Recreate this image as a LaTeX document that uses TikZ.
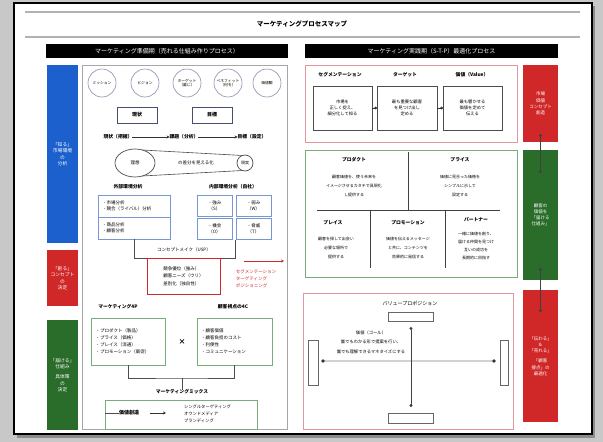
\documentclass[tikz,border=0pt]{standalone}
\usepackage{fontspec}
\setmainfont{Noto Sans CJK JP}
\usetikzlibrary{arrows.meta,shapes.geometric}
\definecolor{bgG}{RGB}{200,200,200}
\definecolor{cBlue}{RGB}{28,96,206}
\definecolor{cRed}{RGB}{208,40,40}
\definecolor{cGreen}{RGB}{42,108,42}
\definecolor{bPink}{RGB}{226,150,160}
\definecolor{bGreen}{RGB}{120,172,120}
\definecolor{bBlue}{RGB}{120,150,210}
\definecolor{bCirc}{RGB}{135,145,175}
\definecolor{bDark}{RGB}{70,80,110}
\newcommand{\fsz}[2]{\fontsize{#1}{#2}\selectfont}
\begin{document}
\begin{tikzpicture}[x=1pt,y=-1pt,
  every node/.style={inner sep=0pt,outer sep=0pt,font=\fsz{4.5}{5.6}},
  hdr/.style={fill=black,text=white,font=\fsz{6}{7}},
  side/.style={text=white,align=center,font=\fsz{4.8}{6.4}},
  circ/.style={circle,draw=bCirc,line width=0.6,minimum size=28,align=center,font=\fsz{3.8}{4.6}},
  dbox/.style={draw=bDark,line width=0.7,fill=white,align=center,font=\fsz{5}{6}\bfseries},
  lbl/.style={font=\fsz{4.8}{6}\bfseries},
  bbox/.style={draw=bBlue,line width=0.9,fill=white,align=left,text width=64,inner xsep=4pt},
  sbox/.style={draw=bBlue,line width=0.9,fill=white,align=center,minimum width=35,minimum height=21},
  gbox/.style={draw=bGreen,line width=0.9,fill=white,align=left,text width=66,inner xsep=4pt,minimum height=47,font=\fsz{4.5}{7}},
  pbox/.style={draw=bPink,line width=0.9},
  wbox/.style={draw=black!70,line width=0.6,fill=white,align=center,minimum width=59,minimum height=44,font=\fsz{4.3}{6}},
  conn/.style={draw=black!70,line width=0.6},
  arr/.style={draw=black!80,line width=0.9,-{Stealth[length=3pt,width=3pt]}},
  dotarr/.style={draw=black!80,line width=0.8,-{Circle[length=2.6pt]}},
  dotline/.style={draw=black!75,line width=1,{Circle[length=3pt]}-{Circle[length=3pt]}},
  tiny/.style={align=center,font=\fsz{4}{5.2}}
]
\useasboundingbox (0,0) rectangle (603,442);
\fill[bgG] (0,0) rectangle (603,442);
\fill[black!45] (17,6) rectangle (595,438);
\draw[line width=2pt,fill=white] (14,3) rectangle (592,434);
\draw[gray!60,line width=1.6pt] (25,12) -- (580,12);
\draw[gray!60,line width=1.6pt] (25,37) -- (580,37);
\node[font=\fsz{6.5}{8}\bfseries] (title) at (302,24) {マーケティングプロセスマップ};

% headers
\node[hdr,minimum width=242,minimum height=14] (lh) at (167,51) {マーケティング準備期（売れる仕組み作りプロセス）};
\node[hdr,minimum width=253,minimum height=14] (rh) at (431.5,51) {マーケティング実践期（S-T-P）最適化プロセス};

% left sidebars
\node[side,fill=cBlue,minimum width=31,minimum height=178] (sb1) at (62.5,154) {「知る」\\市場環境\\の\\分析};
\node[side,fill=cRed,minimum width=31,minimum height=56] (sb2) at (62.5,278) {「創る」\\コンセプト\\の\\決定};
\node[side,fill=cGreen,minimum width=31,minimum height=110] (sb3) at (62.5,375) {「届ける」\\仕組み\\[4pt]具体策\\の\\決定};

% left main box
\node[draw=gray!70,line width=0.9,minimum width=205,minimum height=364] (mainL) at (184.5,247) {};

% circles
\node[circ] (c1) at (102,83) {ミッション};
\node[circ] (c2) at (145,83) {ビジョン};
\node[circ] (c3) at (187,83) {ターゲット\\（誰に）};
\node[circ] (c4) at (228,83) {ベネフィット\\（何を）};
\node[circ] (c5) at (267,83) {価値観};

% current / goal
\node[dbox,minimum width=40,minimum height=16] (now) at (137,115) {現状};
\node[dbox,minimum width=40,minimum height=16] (goal) at (212,115) {目標};

% arrow row
\node[lbl] (r1) at (118,137) {現状（把握）};
\node[lbl] (r2) at (184,137) {課題（分析）};
\node[lbl] (r3) at (252,137) {目標（設定）};
\draw[arr] (r1) -- (r2);
\draw[arr] (r2) -- (r3);

% gap funnel
\node[ellipse,draw=black!70,line width=0.7,minimum width=40,minimum height=28,font=\fsz{4.5}{5.5}] (ideal) at (135,163) {理想};
\node[circle,draw=black!70,line width=0.7,minimum size=16,font=\fsz{4}{5}] (real) at (245,163) {現実};
\draw[conn] (ideal.60) -- (real.110);
\draw[conn] (ideal.-60) -- (real.-110);
\node[font=\fsz{4.5}{5.5}] (gaptxt) at (196,163) {の差分を見える化};

% analysis
\node[lbl] (extL) at (128,187) {外部環境分析};
\node[lbl] (intL) at (233,187) {内部環境分析（自社）};
\node[bbox,minimum height=22] (ext1) at (134,206) {・市場分析\\・競合（ライバル）分析};
\node[bbox,minimum height=22] (ext2) at (134,228) {・商品分析\\・顧客分析};
\node[sbox] (s1) at (214.5,206) {・強み\\（S）};
\node[sbox] (s2) at (253.5,206) {・弱み\\（W）};
\node[sbox] (s3) at (214.5,229) {・機会\\（O）};
\node[sbox] (s4) at (253.5,229) {・脅威\\（T）};
\coordinate (jr) at (235,258);
\coordinate (swb) at (235,240);
\draw[conn] (ext2.south) |- (jr) -- (swb);
\node[lbl,font=\fsz{4.5}{5.5}] (uspL) at (184,250) {コンセプトメイク（USP）};
\node[draw=cRed,line width=0.9,fill=white,align=left,minimum width=73,minimum height=36,font=\fsz{4.5}{7.5}] (cpt) at (183.5,276) {競争優位（強み）\\顧客ニーズ（ウリ）\\差別化（独自性）};
\node[text=cRed,align=left,font=\fsz{4.5}{7}] (stp) at (256,279) {セグメンテーション\\ターゲティング\\ポジショニング};
\coordinate (ra1) at (244,261);
\coordinate (ra2) at (284,261);
\draw[cRed,line width=0.9,-{Stealth[length=3pt,width=3pt]}] (ra1) -- (ra2);

% 4P x 4C
\node[lbl] (p4L) at (118,307) {マーケティング4P};
\node[lbl] (c4L) at (233,307) {顧客視点の4C};
\node[gbox] (p4) at (128.5,341.5) {・プロダクト（製品）\\・プライス（価格）\\・プレイス（流通）\\・プロモーション（販促）};
\node[gbox,text width=67] (c4) at (234.5,341.5) {・顧客価値\\・顧客負担のコスト\\・利便性\\・コミュニケーション};
\node[font=\fsz{7}{8}\bfseries] (times) at (182,342) {×};
\coordinate (mj) at (182,378);
\draw[conn] (p4.south) |- (mj) -| (c4.south);
\node[lbl] (mix) at (182,392) {マーケティングミックス};
\draw[conn] (mj) -- (mix.north);
\node[draw=bGreen,line width=0.9,minimum width=152,minimum height=29] (mixbox) at (181,414.5) {};
\node[font=\fsz{5}{6}\bfseries] (val) at (129,413) {価値創造};
\node[align=left,font=\fsz{4.3}{7},anchor=west] (mixlist) at (184,414) {シングルターゲティング\\オウンドメディア\\ブランディング};
\coordinate (va1) at (150,413);
\coordinate (va2) at (166,413);
\draw[conn] (mixbox.west |- val) -- (val.west);
\draw[arr] (va1) -- (va2);

% ===== right column =====
\node[pbox,minimum width=212,minimum height=77] (stpbox) at (411,103.5) {};
\node[lbl] (segL) at (340,75) {セグメンテーション};
\node[lbl] (tgtL) at (405,75) {ターゲット};
\node[lbl] (valL) at (472,75) {価値（Value）};
\node[wbox] (seg) at (342.5,108) {市場を\\正しく捉え、\\細分化して知る};
\node[wbox,minimum width=60] (tgt) at (407,108) {最も重要な顧客\\を見つけ出し\\定める};
\node[wbox] (valb) at (472.5,108) {最も響かせる\\価値を定めて\\伝える};
\draw[dotarr] (seg) -- (tgt);
\draw[dotarr] (tgt) -- (valb);

\node[side,fill=cRed,minimum width=35,minimum height=77,font=\fsz{4.5}{6.2}] (rs1) at (540.5,103.5) {市場\\価値\\コンセプト\\創造};
\node[side,fill=cGreen,minimum width=35,minimum height=130,font=\fsz{4.5}{6.2}] (rs2) at (540.5,215) {顧客の\\価値を\\「届ける\\仕組み」};
\node[side,fill=cRed,minimum width=35,minimum height=132,font=\fsz{4.5}{6.2}] (rs3) at (540.5,356) {「伝わる」\\\&\\「売れる」\\[4pt]「顧客\\接点」の\\最適化};
\coordinate (d1) at (540.5,134);
\coordinate (d2) at (540.5,173);
\coordinate (d3) at (540.5,268);
\coordinate (d4) at (540.5,312);
\draw[dotline] (d1) -- (d2);
\draw[dotline] (d3) -- (d4);

% 5P box
\node[draw=bGreen,line width=0.9,minimum width=212,minimum height=127] (mixR) at (411,213.5) {};
\draw[black!75,line width=0.9] (408,152) -- (408,210);
\draw[black!75,line width=0.9] (317,210) -- (500,210);
\draw[black!75,line width=0.9] (370,210) -- (370,268);
\draw[black!75,line width=0.9] (445,210) -- (445,268);
\node[lbl] (prodL) at (354,160) {プロダクト};
\node[tiny,font=\fsz{4}{9}] (prodT) at (354,186) {顧客価値を、使う未来を\\イメージさせるカタチで具現化\\し提供する};
\node[lbl] (priceL) at (460,160) {プライス};
\node[tiny,font=\fsz{4}{9}] (priceT) at (460,186) {価値に見合った価格を\\シンプルに示して\\設定する};
\node[lbl] (placeL) at (333,223) {プレイス};
\node[tiny,font=\fsz{4}{9}] (placeT) at (336,248) {顧客を探して出会い\\必要な場所で\\提供する};
\node[lbl] (promL) at (408,223) {プロモーション};
\node[tiny,font=\fsz{4}{9}] (promT) at (408,248) {価値を伝えるメッセージ\\と共に、コンテンツを\\効果的に発信する};
\node[lbl] (partL) at (476,220) {パートナー};
\node[tiny,font=\fsz{4}{8}] (partT) at (476,246) {一緒に価値を創り、\\届ける仲間を見つけ\\互いの成功を\\長期的に目指す};

% value proposition
\node[pbox,minimum width=210,minimum height=136] (vpbox) at (408,361) {};
\node[lbl,font=\fsz{5}{6}] (vpL) at (410,304) {バリュープロポジション};
\node[draw=black!60,line width=0.6,fill=white,minimum width=45,minimum height=9] (vt) at (410.5,316.5) {};
\node[draw=black!60,line width=0.6,fill=white,minimum width=45,minimum height=10] (vb) at (410.5,418) {};
\node[draw=black!60,line width=0.6,fill=white,minimum width=10,minimum height=45] (vl) at (313,362.5) {};
\node[draw=black!60,line width=0.6,fill=white,minimum width=8,minimum height=45] (vr) at (504,362.5) {};
\coordinate (h1) at (323,361);
\coordinate (h2) at (494,361);
\coordinate (v1) at (411,327);
\coordinate (v2) at (411,407);
\draw[black!55,double=gray!35,double distance=1.6pt,line width=0.5] (h1) -- (h2);
\fill[black!80] (h1) circle (1.8);
\fill[black!80] (h2) circle (1.8);
\draw[dotline] (v1) -- (v2);
\node[tiny,font=\fsz{4.3}{9.5}] (vptxt) at (371,342) {価値（ゴール）\\誰でもわかる形で提案を行い、\\誰でも理解できるマネタイズにする};
\end{tikzpicture}
\end{document}
